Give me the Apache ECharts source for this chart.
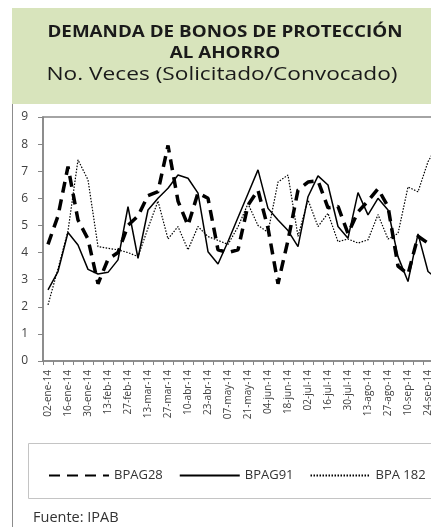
<!DOCTYPE html>
<html>
<head>
<meta charset="utf-8">
<script src="https://cdn.jsdelivr.net/npm/echarts@6/dist/echarts.min.js"></script>
<style>
  html, body { margin: 0; padding: 0; overflow: hidden; background: #fff; }
  #chart { width: 480px; height: 527px; }
</style>
</head>
<body>
<div id="chart"></div>
<script>
// weekly auctions, the last one runs past the right edge of the picture
const categories = [
  "02-ene-14", "09-ene-14", "16-ene-14", "23-ene-14", "30-ene-14", "06-feb-14", "13-feb-14", "20-feb-14",
  "27-feb-14", "06-mar-14", "13-mar-14", "20-mar-14", "27-mar-14", "03-abr-14", "10-abr-14", "16-abr-14",
  "23-abr-14", "30-abr-14", "07-may-14", "14-may-14", "21-may-14", "28-may-14", "04-jun-14", "11-jun-14",
  "18-jun-14", "25-jun-14", "02-jul-14", "09-jul-14", "16-jul-14", "23-jul-14", "30-jul-14", "06-ago-14",
  "13-ago-14", "20-ago-14", "27-ago-14", "03-sep-14", "10-sep-14", "17-sep-14", "24-sep-14", "01-oct-14"
];
const bpag28 = [
  4.3, 5.35, 7.17, 5.2, 4.5, 2.85, 3.75, 4.0, 5.0, 5.35, 6.1, 6.25, 7.95, 5.9, 5.0, 6.2, 6.0, 4.1, 4.0, 4.1,
  5.75, 6.3, 4.9, 2.85, 4.45, 6.3, 6.6, 6.65, 5.65, 5.7, 4.7, 5.5, 5.9, 6.35, 5.7, 3.5, 3.2, 4.6, 4.35, 4.35
];
const bpag91 = [
  2.62, 3.3, 4.74, 4.28, 3.38, 3.21, 3.27, 3.73, 5.69, 3.79, 5.57, 6.0, 6.37, 6.86, 6.74, 6.19, 4.03, 3.58, 4.41, 5.29,
  6.17, 7.05, 5.63, 5.2, 4.81, 4.22, 6.06, 6.83, 6.49, 4.96, 4.53, 6.21, 5.39, 6.0, 5.57, 3.85, 2.93, 4.69, 3.3, 3.0
];
const bpa182 = [
  2.07, 3.4, 4.8, 7.42, 6.68, 4.22, 4.16, 4.1, 4.0, 3.85, 4.9, 5.9, 4.5, 4.96, 4.1, 4.96, 4.59, 4.45, 4.3, 4.95,
  5.8, 5.0, 4.75, 6.6, 6.86, 4.6, 5.94, 4.96, 5.45, 4.4, 4.5, 4.35, 4.47, 5.4, 4.5, 4.7, 6.42, 6.24, 7.35, 8.0
];

const FONT = "'Open Sans', sans-serif";
const AXIS = "#868686";

const chart = echarts.init(document.getElementById("chart"));

function titleText(x, y, text, font, sx) {
  return {
    type: "text", x: x, y: y, scaleX: sx,
    style: {
      text: text, font: font, fill: "#1a1a1a",
      align: "center", verticalAlign: "middle", textAlign: "center", textVerticalAlign: "middle"
    }
  };
}

const option = {
  animation: false,
  backgroundColor: "#fff",
  graphic: [
    { type: "rect", z: -1, shape: { x: 12, y: 8, width: 480, height: 96 }, style: { fill: "#d8e4bc" } },
    { type: "line", shape: { x1: 12.5, y1: 104, x2: 12.5, y2: 527 }, style: { stroke: "#8c8c8c", lineWidth: 1 } },
    { type: "rect", shape: { x: 28.5, y: 443.5, width: 480, height: 55 }, style: { fill: "none", stroke: "#c4c4c4", lineWidth: 1 } },
    titleText(225, 32, "DEMANDA DE BONOS DE PROTECCIÓN", "bold 16.5px 'Open Sans'", 1.14),
    titleText(225, 53, "AL AHORRO", "bold 16.5px 'Open Sans'", 1.14),
    titleText(222, 74.5, "No. Veces (Solicitado/Convocado)", "18px 'Open Sans'", 1.26),
    { type: "text", x: 33, y: 518, style: { text: "Fuente: IPAB", font: "14.5px 'Open Sans'", fill: "#333", verticalAlign: "middle", textVerticalAlign: "middle" } }
  ],
  legend: {
    left: 43,
    top: 464,
    itemWidth: 60,
    itemHeight: 14,
    itemGap: 16,
    itemStyle: { opacity: 0, borderWidth: 0 },
    textStyle: { fontFamily: FONT, fontSize: 13, color: "#333" },
    data: ["BPAG28", "BPAG91", "BPA 182"]
  },
  grid: {
    left: 43,
    top: 117,
    width: 400,
    height: 244,
    show: true,
    borderColor: AXIS,
    borderWidth: 1.5
  },
  xAxis: {
    type: "category",
    data: categories,
    boundaryGap: true,
    axisLine: { lineStyle: { color: AXIS, width: 1.5 } },
    axisTick: { show: true, interval: 0, length: 4, lineStyle: { color: AXIS } },
    axisLabel: { interval: 1, rotate: 90, margin: 9, fontFamily: FONT, fontSize: 10, color: "#404040" },
    splitLine: { show: false }
  },
  yAxis: {
    type: "value",
    min: 0,
    max: 9,
    interval: 1,
    axisLine: { show: true, lineStyle: { color: AXIS, width: 1.5 } },
    axisTick: { show: true, length: 5, lineStyle: { color: AXIS } },
    axisLabel: { margin: 15, fontFamily: FONT, fontSize: 12, color: "#404040" },
    splitLine: { show: false }
  },
  series: [
    {
      name: "BPAG28", type: "line", data: bpag28, symbol: "none", color: "#000",
      lineStyle: { color: "#000", width: 3.5, type: [11, 7] }
    },
    {
      name: "BPAG91", type: "line", data: bpag91, symbol: "none", color: "#000",
      lineStyle: { color: "#000", width: 1.5 }
    },
    {
      name: "BPA 182", type: "line", data: bpa182, symbol: "none", color: "#000",
      lineStyle: { color: "#000", width: 1.2, type: [1.5, 1.5] }
    }
  ]
};

chart.setOption(option);
</script>
</body>
</html>
